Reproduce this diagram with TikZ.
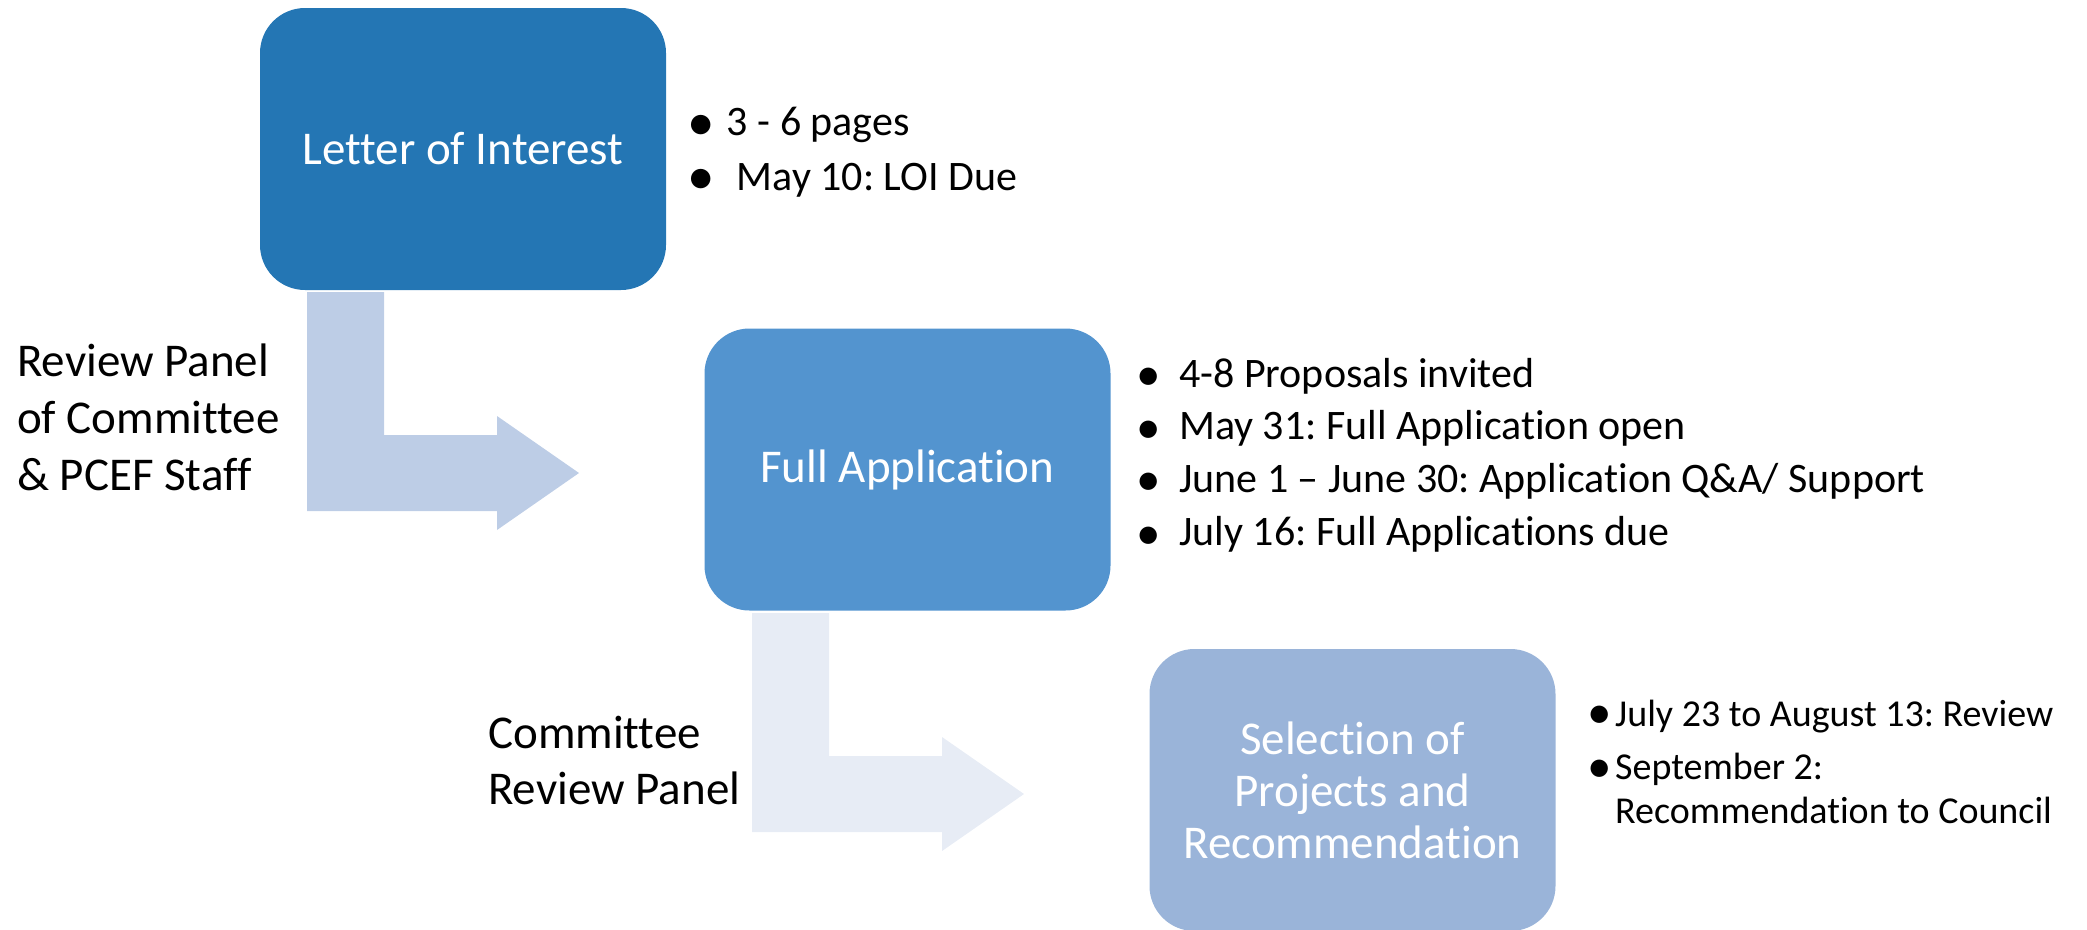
\documentclass[tikz,border=0pt]{standalone}
\usepackage{fontspec}
\setmainfont{Carlito}[Ligatures={TeX,NoCommon}]
\frenchspacing
\definecolor{boxA}{HTML}{2476B4}
\definecolor{boxB}{HTML}{5394CF}
\definecolor{boxC}{HTML}{9AB4D9}
\definecolor{arrA}{HTML}{BDCDE6}
\definecolor{arrB}{HTML}{E7ECF5}
\begin{document}
\begin{tikzpicture}[x=1pt,y=-1pt,
  stage/.style={rectangle, rounded corners=45pt, minimum width=406pt, minimum height=282pt, inner sep=0pt, text=white, align=center, font=\fontsize{47pt}{52pt}\selectfont},
  txt/.style={anchor=base west, inner sep=0pt, font=\fontsize{42pt}{50pt}\selectfont},
  txtsm/.style={anchor=base west, inner sep=0pt, font=\fontsize{38pt}{44pt}\selectfont},
  bul/.style={anchor=center, yshift=-5pt, inner sep=0pt, font=\fontsize{55pt}{60pt}\selectfont},
  bulsm/.style={anchor=center, yshift=-4.5pt, inner sep=0pt, font=\fontsize{49pt}{55pt}\selectfont},
  side/.style={anchor=base west, inner sep=0pt, font=\fontsize{47pt}{56.7pt}\selectfont}]
\useasboundingbox (0,0) rectangle (2087,929);
% stages
\node[stage, fill=boxA] (b1) at (463,149) {Letter of Interest};
\node[stage, fill=boxB] (b2) at (907.5,469.5) {Full Application};
\node[stage, fill=boxC] (b3) at (1352.5,790) {Selection of\\Projects and\\Recommendation};
% bent arrows
\fill[arrA] (307,292) -- (384,292) -- (384,435) -- (497,435) -- (497,416) -- (579,473) -- (497,530) -- (497,511) -- (307,511) -- cycle;
\fill[arrB] (752,613) -- (829,613) -- (829,756) -- (942,756) -- (942,737) -- (1024,794) -- (942,851) -- (942,832) -- (752,832) -- cycle;
% arrow labels
\node[side] (l1) at (17,376.7) {\vtop{\hbox{Review Panel}\hbox{of Committee}\hbox{\& PCEF Staff}}};
\node[side] (l2) at (488,748) {\vtop{\hbox{Committee}\hbox{Review Panel}}};
% list 1
\node[bul] (p1) at (700.7,123.3) {•};
\node[txt] (t1) at (726.7,135) {3 - 6 pages};
\node[bul] (p2) at (700.7,177.3) {•};
\node[txt] (t2) at (736.7,190) {May 10: LOI Due};
% list 2
\node[bulsm] (p3) at (1148.5,375) {•};
\node[txt] (t3) at (1179,387) {4-8 Proposals invited};
\node[bulsm] (p4) at (1148.5,427.3) {•};
\node[txt] (t4) at (1179,439.5) {May 31: Full Application open};
\node[bulsm] (p5) at (1148.5,480) {•};
\node[txt] (t5) at (1179,492) {June 1 – June 30: Application Q\&A/ Support};
\node[bulsm] (p6) at (1148.5,533.3) {•};
\node[txt] (t6) at (1179,545) {July 16: Full Applications due};
% list 3
\node[bulsm] (p7) at (1600,713) {•};
\node[txtsm] (t7) at (1615,726.7) {July 23 to August 13: Review};
\node[bulsm] (p8) at (1600,767) {•};
\node[txtsm] (t8) at (1615,779) {September 2:};
\node[txtsm] (t9) at (1615,823) {Recommendation to Council};
\end{tikzpicture}
\end{document}
